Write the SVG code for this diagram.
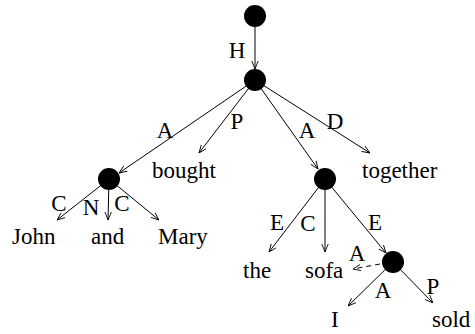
<svg xmlns="http://www.w3.org/2000/svg" width="475" height="334" viewBox="0 0 475 334">
<style>
text{font-family:"Liberation Serif","Times New Roman",serif;font-size:23px;fill:#000}
.e{stroke:#000;stroke-width:1;fill:none;marker-end:url(#arr)}
.d{stroke-dasharray:5,4}
.n{fill:#000}
</style>
<defs>
<marker id="arr" viewBox="0 0 10 10" refX="10" refY="5" markerWidth="8" markerHeight="8" markerUnits="userSpaceOnUse" orient="auto">
<path d="M0,1 L10,5 L0,9" fill="none" stroke="#000" stroke-width="1.1"/>
</marker>
</defs>
<g id="connectors">
<line class="e" x1="255" y1="15" x2="255" y2="69"/>
<line class="e" x1="255" y1="80" x2="119" y2="173"/>
<line class="e" x1="255" y1="80" x2="199" y2="153"/>
<line class="e" x1="255" y1="80" x2="318" y2="169"/>
<line class="e" x1="255" y1="80" x2="370" y2="153"/>
<line class="e" x1="109" y1="179" x2="57" y2="220"/>
<line class="e" x1="109" y1="179" x2="108" y2="220"/>
<line class="e" x1="109" y1="179" x2="159" y2="220"/>
<line class="e" x1="325" y1="179" x2="269" y2="252"/>
<line class="e" x1="325" y1="179" x2="325" y2="252"/>
<line class="e" x1="325" y1="179" x2="386" y2="253"/>
<line class="e d" x1="380" y1="264" x2="353" y2="269"/>
<line class="e" x1="393" y1="262" x2="348" y2="306"/>
<line class="e" x1="393" y1="262" x2="433" y2="303"/>
</g>
<g id="labels">
<text x="237" y="58" text-anchor="middle">H</text>
<text x="165" y="138" text-anchor="middle">A</text>
<text x="237" y="129" text-anchor="middle">P</text>
<text x="307" y="138" text-anchor="middle">A</text>
<text x="335" y="129" text-anchor="middle">D</text>
<text x="59" y="211" text-anchor="middle">C</text>
<text x="91" y="215" text-anchor="middle">N</text>
<text x="122" y="211" text-anchor="middle">C</text>
<text x="277" y="230" text-anchor="middle">E</text>
<text x="308" y="231" text-anchor="middle">C</text>
<text x="375" y="230" text-anchor="middle">E</text>
<text x="357" y="261" text-anchor="middle">A</text>
<text x="383" y="298" text-anchor="middle">A</text>
<text x="433" y="294" text-anchor="middle">P</text>
</g>
<g id="n0"><circle class="n" cx="255" cy="16" r="11"/></g>
<g id="n1"><circle class="n" cx="255" cy="80" r="11"/></g>
<g id="n2"><circle class="n" cx="109" cy="179" r="11"/></g>
<g id="n3"><circle class="n" cx="325" cy="179" r="11"/></g>
<g id="n4"><circle class="n" cx="393" cy="262" r="11"/></g>
<g id="w-bought"><text x="152" y="178">bought</text></g>
<g id="w-together"><text x="362" y="178">together</text></g>
<g id="w-john"><text x="12" y="244">John</text></g>
<g id="w-and"><text x="91" y="244">and</text></g>
<g id="w-mary"><text x="158" y="244">Mary</text></g>
<g id="w-the"><text x="243" y="278">the</text></g>
<g id="w-sofa"><text x="305" y="278">sofa</text></g>
<g id="w-i"><text x="331" y="327">I</text></g>
<g id="w-sold"><text x="432" y="327">sold</text></g>
</svg>
